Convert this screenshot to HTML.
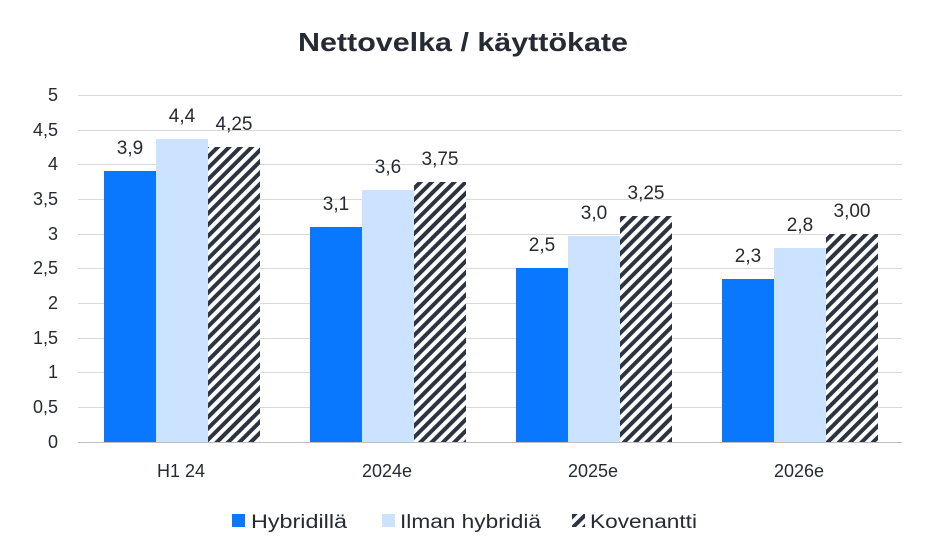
<!DOCTYPE html>
<html><head><meta charset="utf-8"><style>
body{margin:0;background:#fff;}
svg{display:block;font-family:"Liberation Sans",sans-serif;}
</style></head><body>
<svg width="933" height="548" viewBox="0 0 933 548">
<defs>
<pattern id="h" patternUnits="userSpaceOnUse" width="8" height="8" patternTransform="rotate(45)">
<rect width="8" height="8" fill="#fff"/><rect width="4" height="8" fill="#2b3440"/>
</pattern>
</defs>
<text x="298" y="51" textLength="330" lengthAdjust="spacingAndGlyphs" font-size="26" font-weight="bold" fill="#262a33">Nettovelka / käyttökate</text>
<g stroke="#d9d9d9" stroke-width="1">
<line x1="78" x2="902" y1="95.5" y2="95.5"/><line x1="78" x2="902" y1="130.5" y2="130.5"/>
<line x1="78" x2="902" y1="164.5" y2="164.5"/><line x1="78" x2="902" y1="199.5" y2="199.5"/>
<line x1="78" x2="902" y1="234.5" y2="234.5"/><line x1="78" x2="902" y1="268.5" y2="268.5"/>
<line x1="78" x2="902" y1="303.5" y2="303.5"/><line x1="78" x2="902" y1="338.5" y2="338.5"/>
<line x1="78" x2="902" y1="372.5" y2="372.5"/><line x1="78" x2="902" y1="407.5" y2="407.5"/>
</g>
<g font-size="18" fill="#262a33" text-anchor="end">
<text x="58" y="101">5</text><text x="58" y="136">4,5</text><text x="58" y="170">4</text>
<text x="58" y="205">3,5</text><text x="58" y="240">3</text><text x="58" y="274">2,5</text>
<text x="58" y="309">2</text><text x="58" y="344">1,5</text><text x="58" y="378">1</text>
<text x="58" y="413">0,5</text><text x="58" y="448">0</text>
</g>
<g fill="#0a77ff">
<rect x="104" y="171" width="52" height="271"/><rect x="310" y="227" width="52" height="215"/>
<rect x="516" y="268" width="52" height="174"/><rect x="722" y="279" width="52" height="163"/>
</g>
<g fill="#cce3ff">
<rect x="156" y="139" width="52" height="303"/><rect x="362" y="190" width="52" height="252"/>
<rect x="568" y="236" width="52" height="206"/><rect x="774" y="248" width="52" height="194"/>
</g>
<g fill="url(#h)">
<rect x="208" y="147" width="52" height="295"/><rect x="414" y="182" width="52" height="260"/>
<rect x="620" y="216" width="52" height="226"/><rect x="826" y="234" width="52" height="208"/>
</g>
<line x1="78" x2="902" y1="442.5" y2="442.5" stroke="#bfbfbf"/>
<g font-size="19" fill="#262a33" text-anchor="middle">
<text x="130" y="154">3,9</text><text x="182" y="122">4,4</text><text x="234" y="130">4,25</text>
<text x="336" y="210">3,1</text><text x="388" y="173">3,6</text><text x="440" y="165">3,75</text>
<text x="542" y="251">2,5</text><text x="594" y="219">3,0</text><text x="646" y="199">3,25</text>
<text x="748" y="262">2,3</text><text x="800" y="231">2,8</text><text x="852" y="217">3,00</text>
</g>
<g font-size="18" fill="#262a33" text-anchor="middle">
<text x="181" y="477">H1 24</text><text x="387" y="477">2024e</text>
<text x="593" y="477">2025e</text><text x="799" y="477">2026e</text>
</g>
<g font-size="19" fill="#262a33">
<rect x="232" y="514" width="13" height="13" fill="#0a77ff"/><text x="251" y="528" textLength="96" lengthAdjust="spacingAndGlyphs">Hybridillä</text>
<rect x="382" y="514" width="13" height="13" fill="#cce3ff"/><text x="400" y="528" textLength="141" lengthAdjust="spacingAndGlyphs">Ilman hybridiä</text>
<rect x="572" y="514" width="13" height="13" fill="url(#h)"/><text x="590" y="528" textLength="107" lengthAdjust="spacingAndGlyphs">Kovenantti</text>
</g>
</svg>
</body></html>
